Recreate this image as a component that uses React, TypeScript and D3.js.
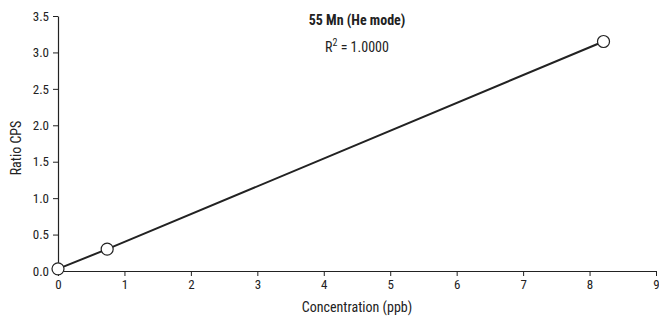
import * as d3 from "d3";
import React, { useEffect, useRef } from "react";

// calibration points: concentration (ppb) vs ratio CPS
const concentration = [0, 0.74, 8.21];
const ratioCps = [0.03, 0.3, 3.15];
const xTicks = [0, 1, 2, 3, 4, 5, 6, 7, 8, 9];
const yTicks = [0, 0.5, 1, 1.5, 2, 2.5, 3, 3.5];
const title = "55 Mn (He mode)";
const rSquared = "1.0000";

const FONT = '"Liberation Sans Narrow", "Roboto Condensed", "Arial Narrow", sans-serif';

const App: React.FC = () => {
  const svgRef = useRef<SVGSVGElement>(null);

  useEffect(() => {
    if (!svgRef.current) return;
    const width = 659;
    const height = 316;
    const margin = { top: 16, right: 3, bottom: 45, left: 58 };
    const plotWidth = width - margin.left - margin.right;
    const plotHeight = height - margin.top - margin.bottom;

    d3.select(svgRef.current).selectAll("*").remove();
    const svg = d3
      .select(svgRef.current)
      .attr("width", width)
      .attr("height", height)
      .style("background", "#fff");

    const g = svg
      .append("g")
      .attr("transform", `translate(${margin.left},${margin.top})`);

    const x = d3.scaleLinear().domain([0, 9]).range([0, plotWidth]);
    const y = d3.scaleLinear().domain([0, 3.5]).range([plotHeight, 0]);

    // X axis
    const xg = g
      .append("g")
      .attr("transform", `translate(0,${plotHeight})`)
      .call(
        d3
          .axisBottom(x)
          .tickValues(xTicks)
          .tickSizeInner(5)
          .tickSizeOuter(0)
          .tickPadding(4)
          .tickFormat(d3.format("d")),
      );
    // Y axis
    const yg = g.append("g").call(
      d3
        .axisLeft(y)
        .tickValues(yTicks)
        .tickSizeInner(5)
        .tickSizeOuter(0)
        .tickPadding(4)
        .tickFormat(d3.format(".1f")),
    );

    [xg, yg].forEach((ax) => {
      ax.select(".domain").attr("stroke", "#222").attr("stroke-width", 1.2);
      ax.selectAll(".tick line").attr("stroke", "#222");
      ax.selectAll(".tick text")
        .attr("fill", "#222")
        .style("font-family", FONT)
        .style("font-size", "13px");
    });

    // Line through points
    const pts = concentration.map((c, i) => [c, ratioCps[i]] as [number, number]);
    const line = d3
      .line<[number, number]>()
      .x((d) => x(d[0]))
      .y((d) => y(d[1]));
    g.append("path")
      .datum(pts)
      .attr("fill", "none")
      .attr("stroke", "#222")
      .attr("stroke-width", 2)
      .attr("d", line);

    g.selectAll("circle")
      .data(pts)
      .join("circle")
      .attr("cx", (d) => x(d[0]))
      .attr("cy", (d) => y(d[1]))
      .attr("r", 6)
      .attr("fill", "#fff")
      .attr("stroke", "#222")
      .attr("stroke-width", 1.2);

    // Title + R²
    svg
      .append("text")
      .attr("x", 357)
      .attr("y", 25)
      .attr("text-anchor", "middle")
      .style("font-family", FONT)
      .style("font-size", "14px")
      .style("font-weight", "bold")
      .attr("fill", "#222")
      .text(title);

    const r2 = svg
      .append("text")
      .attr("x", 357)
      .attr("y", 52)
      .attr("text-anchor", "middle")
      .style("font-family", FONT)
      .style("font-size", "14px")
      .attr("fill", "#222");
    r2.append("tspan").text("R");
    r2.append("tspan").attr("dy", -6).style("font-size", "10px").text("2");
    r2.append("tspan").attr("dy", 6).text(` = ${rSquared}`);

    // Axis titles
    svg
      .append("text")
      .attr("x", margin.left + plotWidth / 2)
      .attr("y", 312)
      .attr("text-anchor", "middle")
      .style("font-family", FONT)
      .style("font-size", "14px")
      .attr("fill", "#222")
      .text("Concentration (ppb)");

    svg
      .append("text")
      .attr("transform", `translate(21,${148}) rotate(-90)`)
      .attr("text-anchor", "middle")
      .style("font-family", FONT)
      .style("font-size", "14px")
      .attr("fill", "#222")
      .text("Ratio CPS");
  }, []);

  return (
    <svg
      ref={svgRef}
      style={{ position: "absolute", left: 0, top: 0, display: "block" }}
    />
  );
};

export default App;
